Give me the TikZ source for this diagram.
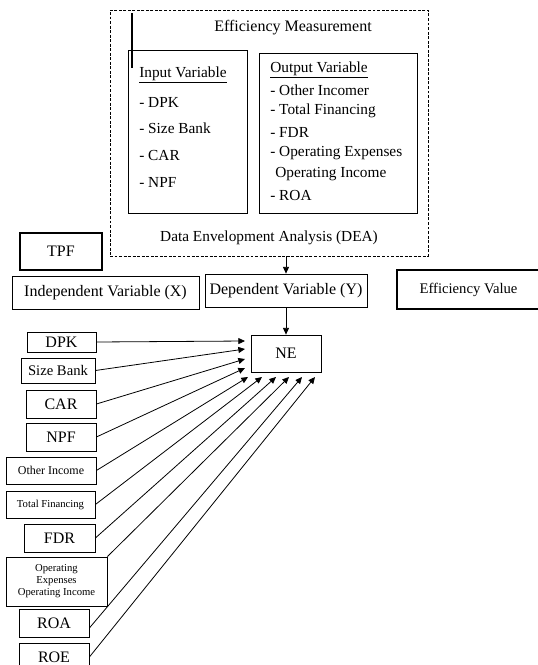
\documentclass[tikz,border=0pt]{standalone}
\usepackage{fontspec}
\setmainfont{Liberation Serif}
\usetikzlibrary{arrows.meta}
\begin{document}
\begin{tikzpicture}[x=0.75pt,y=-0.75pt,
  box/.style args={#1/#2}{draw, line width=0.6pt, minimum width=#1*0.75pt, minimum height=#2*0.75pt, inner sep=0pt, align=center, font=\fontsize{12}{14}\selectfont},
  thickbox/.style={line width=1.5pt},
  finedash/.style={dash pattern=on 2.2pt off 1.2pt},
  lst/.style={anchor=west, inner sep=0pt, font=\fontsize{11.5}{13}\selectfont},
  lbl/.style={inner sep=0pt},
  arr/.style={line width=0.6pt, -{Triangle[length=5pt,width=4.5pt]}}
]
\useasboundingbox (0,0) rectangle (537,665);

% DEA container
\node[box=318/246, finedash] (dea) at (269,133) {};
\draw[line width=0.8pt] (132,13) -- (132,68);
\node[lbl, font=\fontsize{12}{14}\selectfont] (effm) at (293,28) {Efficiency Measurement};
\node[lbl, font=\fontsize{11.5}{13}\selectfont] (deat) at (269,238) {Data Envelopment Analysis (DEA)};

\node[box=119/163] (inbox) at (187.5,131.5) {};
\node[box=158/160] (outbox) at (338,133) {};

\node[lst] (in0) at (139,75) {\underline{Input Variable}};
\node[lst] (in1) at (139,102) {- DPK};
\node[lst] (in2) at (139,128) {- Size Bank};
\node[lst] (in3) at (139,155) {- CAR};
\node[lst] (in4) at (139,182) {- NPF};

\node[lst] (out0) at (270,70) {\underline{Output Variable}};
\node[lst] (out1) at (270,90) {- Other Incomer};
\node[lst] (out2) at (270,111) {- Total Financing};
\node[lst] (out3) at (270,132) {- FDR};
\node[lst] (out4) at (270,153) {- Operating Expenses};
\node[lst] (out5) at (275,174) {Operating Income};
\node[lst] (out6) at (270,195) {- ROA};

% row of headings
\node[box=82/37, thickbox] (tpf) at (61,251.5) {TPF};
\node[box=187/33] (indep) at (105.5,292.5) {Independent Variable (X)};
\node[box=162/33] (dep) at (286,290.5) {Dependent Variable (Y)};
\node[box=143/39, thickbox, font=\fontsize{11}{13}\selectfont] (effv) at (468.5,289.5) {Efficiency Value};

\node[box=70/37] (ne) at (286,353.5) {NE};

\draw[arr] (dep.north |- dea.south) -- (dep.north);
\draw[arr] (dep.south) -- (ne.north);

% left variable boxes
\node[box=69/20] (dpk) at (61.5,342) {DPK};
\node[box=74/25, font=\fontsize{11}{13}\selectfont] (size) at (58,370.5) {Size Bank};
\node[box=70/28] (car) at (61,404) {CAR};
\node[box=70/28] (npf) at (61,437) {NPF};
\node[box=90/27, font=\fontsize{9}{11}\selectfont] (oth) at (51,470.5) {Other Income};
\node[box=89/27, font=\fontsize{8}{10}\selectfont] (tf) at (50.5,504.5) {Total Financing};
\node[box=71/28] (fdr) at (59.5,538) {FDR};
\node[box=101/49, font=\fontsize{8}{9}\selectfont] (op) at (56.5,581.5) {Operating\\Expenses\\Operating Income};
\node[box=70/28] (roa) at (54,623) {ROA};
\node[box=70/28] (roe) at (54,657) {ROE};

% arrow targets near NE
\coordinate (t1) at (245,341);
\coordinate (t2) at (245,349);
\coordinate (t3) at (245,359);
\coordinate (t4) at (245,368);
\coordinate (b1) at (248,377);
\coordinate (b2) at (262,377);
\coordinate (b3) at (276,377);
\coordinate (b4) at (289,377);
\coordinate (b5) at (302,377);
\coordinate (b6) at (315,377);

\draw[arr] (dpk.east) -- (t1);
\draw[arr] (size.east) -- (t2);
\draw[arr] (car.east) -- (t3);
\draw[arr] (npf.east) -- (t4);
\draw[arr] (oth.east) -- (b1);
\draw[arr] (tf.east) -- (b2);
\draw[arr] (fdr.east) -- (b3);
\draw[arr] (op.north east) -- (b4);
\draw[arr] (roa.-8) -- (b5);
\draw[arr] (roe.east) -- (b6);
\end{tikzpicture}
\end{document}
